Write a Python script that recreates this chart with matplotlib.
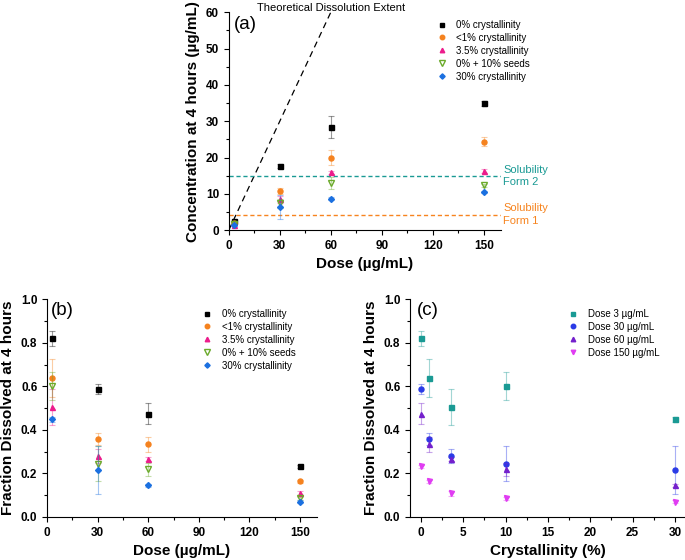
import matplotlib
matplotlib.use("Agg")
import matplotlib.pyplot as plt
import numpy as np
from matplotlib.ticker import MultipleLocator

# ---- data ----
doses = [3, 30, 60, 150]
series_labels = ['0% crystallinity', '<1% crystallinity', '3.5% crystallinity',
                 '0% + 10% seeds', '30% crystallinity']

# (a) concentration at 4 h (ug/mL)
conc_0 = [2.5, 17.7, 28.5, 35.0]
conc_0_err = [0.1, 0.5, 3.0, 0.7]
conc_lt1 = [1.9, 10.7, 20.0, 24.4]
conc_lt1_err = [0.25, 0.8, 2.1, 1.3]
conc_35 = [1.5, 8.5, 16.0, 16.3]
conc_35_err = [0.25, 0.9, 0.4, 0.5]
conc_seed = [1.8, 7.4, 13.0, 12.4]
conc_seed_err = [0.2, 1.2, 1.7, 0.4]
conc_30 = [1.35, 6.5, 8.7, 10.5]
conc_30_err = [0.1, 3.3, 0.3, 0.3]

# (b) fraction dissolved at 4 h
frac_0 = [0.82, 0.588, 0.475, 0.233]
frac_0_err = [0.033, 0.023, 0.05, 0.006]
frac_lt1 = [0.637, 0.358, 0.333, 0.163]
frac_lt1_err = [0.087, 0.028, 0.035, 0.008]
frac_35 = [0.505, 0.28, 0.267, 0.108]
frac_35_err = [0.082, 0.03, 0.01, 0.01]
frac_seed = [0.60, 0.245, 0.22, 0.085]
frac_seed_err = [0.065, 0.08, 0.03, 0.005]
frac_30 = [0.448, 0.217, 0.145, 0.07]
frac_30_err = [0.01, 0.11, 0.008, 0.008]

# (c) crystallinity axis (seeded sample plotted at 10%)
crystallinity = [0, 1, 3.5, 10, 30]
dose_labels = ['Dose 3 \u00b5g/mL', 'Dose 30 \u00b5g/mL', 'Dose 60 \u00b5g/mL', 'Dose 150 \u00b5g/mL']

sol_form2 = 15.0
sol_form1 = 4.3

# ---- style ----
plt.rcParams['font.family'] = ['Liberation Sans', 'DejaVu Sans']
plt.rcParams['axes.linewidth'] = 0.8
plt.rcParams['xtick.major.size'] = 3.5
plt.rcParams['ytick.major.size'] = 3.5
plt.rcParams['xtick.minor.size'] = 2
plt.rcParams['ytick.minor.size'] = 2

colors_ab = ['#000000', '#F5821F', '#EC1C8C', '#6BAA2B', '#1B70E0']
markers_ab = ['s', 'o', '^', 'v', 'D']
colors_c = ['#1A9A94', '#2A3BE6', '#7420CC', '#E03CF2']
markers_c = ['s', 'o', '^', 'v']

fig = plt.figure(figsize=(6.85, 5.6), dpi=100)
ax_a = fig.add_axes([0.334, 0.589, 0.397, 0.389])
ax_b = fig.add_axes([0.0686, 0.0768, 0.394, 0.389])
ax_c = fig.add_axes([0.5985, 0.0768, 0.4015, 0.389])


def style_axes(ax):
    ax.spines['top'].set_visible(False)
    ax.spines['right'].set_visible(False)
    ax.tick_params(which='both', direction='out', width=0.8)
    for lab in ax.get_xticklabels() + ax.get_yticklabels():
        lab.set_fontweight('bold')
        lab.set_fontsize(8.5)


def draw_series(ax, x, y, err, color, marker, label, ms=3.6):
    if marker == 'D':
        ms = ms - 0.6
    hollow = marker == 'v' and color == '#6BAA2B'
    ax.errorbar(x, y, yerr=err, fmt='none', ecolor=color, alpha=0.4,
                elinewidth=0.8, capsize=2, capthick=0.8)
    if hollow:
        ax.plot(x, y, linestyle='none', marker=marker, mfc='none', mec=color,
                mew=1.0, ms=ms + 0.6, label=label)
    else:
        ax.plot(x, y, linestyle='none', marker=marker, color=color, ms=ms,
                label=label)


def add_legend(ax, x0, y0):
    ax.legend(loc='upper left', bbox_to_anchor=(x0, y0), frameon=False,
              fontsize=7, borderpad=0, borderaxespad=0, handlelength=1,
              handletextpad=1.0, labelspacing=0.3, markerscale=0.9)


# ---- (a) ----
conc_all = [conc_0, conc_lt1, conc_35, conc_seed, conc_30]
conc_err_all = [conc_0_err, conc_lt1_err, conc_35_err, conc_seed_err, conc_30_err]
ax_a.plot([0, 60], [0, 60], linestyle=(0, (5, 3.5)), color='#000000', lw=0.9)
ax_a.axhline(sol_form2, color='#1A9A94', lw=1.0, linestyle=(0, (3, 2)))
ax_a.axhline(sol_form1, color='#F7841F', lw=1.0, linestyle=(0, (3, 2)))
for y, e, c, m, lab in zip(conc_all, conc_err_all, colors_ab, markers_ab, series_labels):
    draw_series(ax_a, doses, y, e, c, m, lab)
ax_a.set_xlim(0, 160)
ax_a.set_ylim(0, 60)
ax_a.xaxis.set_major_locator(MultipleLocator(30))
ax_a.xaxis.set_minor_locator(MultipleLocator(15))
ax_a.yaxis.set_major_locator(MultipleLocator(10))
ax_a.yaxis.set_minor_locator(MultipleLocator(5))
ax_a.set_xlabel('Dose (\u00b5g/mL)', fontsize=11, fontweight='bold')
ax_a.set_ylabel('Concentration at 4 hours (\u00b5g/mL)', fontsize=11, fontweight='bold')
ax_a.text(0.02, 0.985, '(a)', transform=ax_a.transAxes, fontsize=13.5, va='top')
ax_a.text(0.375, 1.02, 'Theoretical Dissolution Extent', transform=ax_a.transAxes,
          fontsize=8, ha='center', va='center')
ax_a.text(1.01, sol_form2, 'Solubility\nForm 2', transform=ax_a.get_yaxis_transform(),
          color='#1A9A94', fontsize=8, va='center', ha='left', linespacing=1.3)
ax_a.text(1.01, sol_form1, 'Solubility\nForm 1', transform=ax_a.get_yaxis_transform(),
          color='#F7841F', fontsize=8, va='center', ha='left', linespacing=1.3)
add_legend(ax_a, 0.765, 0.965)
style_axes(ax_a)

# ---- (b) ----
frac_all = [frac_0, frac_lt1, frac_35, frac_seed, frac_30]
frac_err_all = [frac_0_err, frac_lt1_err, frac_35_err, frac_seed_err, frac_30_err]
for y, e, c, m, lab in zip(frac_all, frac_err_all, colors_ab, markers_ab, series_labels):
    draw_series(ax_b, doses, y, e, c, m, lab)
ax_b.set_xlim(0, 160)
ax_b.set_ylim(0, 1.0)
ax_b.xaxis.set_major_locator(MultipleLocator(30))
ax_b.xaxis.set_minor_locator(MultipleLocator(15))
ax_b.yaxis.set_major_locator(MultipleLocator(0.2))
ax_b.yaxis.set_minor_locator(MultipleLocator(0.1))
ax_b.set_xlabel('Dose (\u00b5g/mL)', fontsize=11, fontweight='bold')
ax_b.set_ylabel('Fraction Dissolved at 4 hours', fontsize=11, fontweight='bold')
ax_b.text(0.015, 0.985, '(b)', transform=ax_b.transAxes, fontsize=13.5, va='top')
add_legend(ax_b, 0.575, 0.955)
style_axes(ax_b)

# ---- (c) ----
frac_by_dose = np.array(frac_all).T
err_by_dose = np.array(frac_err_all).T
for y, e, c, m, lab in zip(frac_by_dose, err_by_dose, colors_c, markers_c, dose_labels):
    draw_series(ax_c, crystallinity, y, e, c, m, lab)
ax_c.set_xlim(-1.3, 31.2)
ax_c.set_ylim(0, 1.0)
ax_c.xaxis.set_major_locator(MultipleLocator(5))
ax_c.xaxis.set_minor_locator(MultipleLocator(2.5))
ax_c.yaxis.set_major_locator(MultipleLocator(0.2))
ax_c.yaxis.set_minor_locator(MultipleLocator(0.1))
ax_c.set_xlabel('Crystallinity (%)', fontsize=11, fontweight='bold')
ax_c.set_ylabel('Fraction Dissolved at 4 hours', fontsize=11, fontweight='bold')
ax_c.text(0.025, 0.985, '(c)', transform=ax_c.transAxes, fontsize=13.5, va='top')
add_legend(ax_c, 0.575, 0.955)
style_axes(ax_c)

fig.savefig('out.png', dpi=100)
